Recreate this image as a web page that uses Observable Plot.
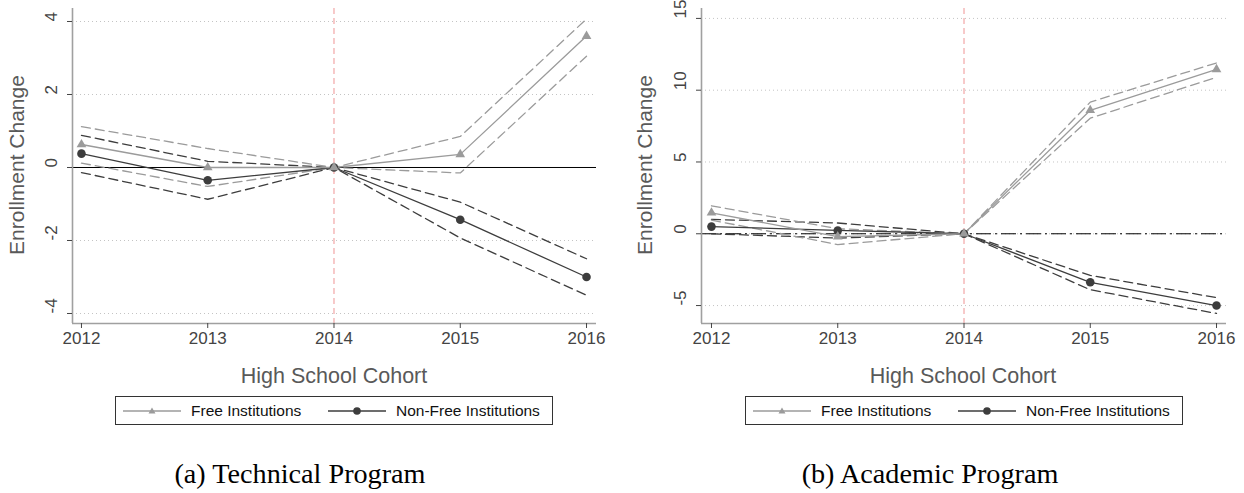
<!DOCTYPE html>
<html>
<head>
<meta charset="utf-8">
<script src="https://cdn.jsdelivr.net/npm/d3@7"></script>
<script src="https://cdn.jsdelivr.net/npm/@observablehq/plot@0.6"></script>
<style>
  body { margin: 0; background: #fff; }
  #wrap { position: relative; width: 1244px; height: 493px; overflow: hidden; font-family: "Liberation Sans", Arial, sans-serif; }
  .abs { position: absolute; }
  .ytitle { font-size: 21px; color: #595959; transform: translate(-50%, -50%) rotate(-90deg); white-space: nowrap; }
  .xtitle { font-size: 21.5px; color: #595959; transform: translate(-50%, -50%); white-space: nowrap; }
  .caption { font-family: "Liberation Serif", "Times New Roman", serif; font-size: 28.2px; color: #000; transform: translateX(-50%); white-space: nowrap; }
  .legend { border: 1px solid #333; box-sizing: border-box; width: 438px; height: 29px; background: #fff; }
  .legend .lt { position: absolute; top: 50%; transform: translateY(-50%); font-size: 15.5px; color: #111; white-space: nowrap; }
  .legend svg { position: absolute; top: 6px; }
</style>
</head>
<body>
<div id="wrap"></div>
<script>
// ---------- data ----------
const years = [2012, 2013, 2014, 2015, 2016];
const seriesNames = ["Free Institutions", "Non-Free Institutions"];

// (a) Technical Program
const techFree      = [0.63, 0.00, 0, 0.36, 3.60];
const techFreeHi    = [1.12, 0.52, 0, 0.85, 4.07];
const techFreeLo    = [0.12, -0.52, 0, -0.15, 3.05];
const techNonFree   = [0.38, -0.35, 0, -1.43, -3.00];
const techNonFreeHi = [0.88, 0.17, 0, -0.95, -2.50];
const techNonFreeLo = [-0.14, -0.87, 0, -1.93, -3.50];
const techYTicks = [-4, -2, 0, 2, 4];

// (b) Academic Program
const acadFree      = [1.46, -0.20, 0, 8.60, 11.45];
const acadFreeHi    = [1.95, 0.35, 0, 9.17, 11.90];
const acadFreeLo    = [0.95, -0.75, 0, 8.05, 10.90];
const acadNonFree   = [0.50, 0.23, 0, -3.38, -5.00];
const acadNonFreeHi = [1.00, 0.75, 0, -2.90, -4.45];
const acadNonFreeLo = [0.00, -0.30, 0, -3.90, -5.55];
const acadYTicks = [-5, 0, 5, 10, 15];

const xTitle = "High School Cohort";
const yTitle = "Enrollment Change";
const captions = ["(a) Technical Program", "(b) Academic Program"];
const refYear = 2014;

// ---------- styles ----------
const FREE = "#9b9b9b";
const NONFREE = "#3d3d3d";

function rows(vals, name) {
  return years.map((year, i) => ({year, value: vals[i], series: name}));
}

function panel({free, freeHi, freeLo, nonFree, nonFreeHi, nonFreeLo, yTicks, yDomain, xDomain, width, marginLeft, marginRight, zeroDash}) {
  const freeRows = rows(free, seriesNames[0]);
  const nonRows = rows(nonFree, seriesNames[1]);
  const ciFree = [...rows(freeHi, "fh"), ...rows(freeLo, "fl")];
  const ciNon = [...rows(nonFreeHi, "nh"), ...rows(nonFreeLo, "nl")];
  return Plot.plot({
    width, height: 360,
    marginLeft, marginRight, marginTop: 8, marginBottom: 37,
    style: {fontFamily: "Liberation Sans, Arial, sans-serif", background: "transparent", overflow: "visible"},
    x: {domain: xDomain, label: null},
    y: {domain: yDomain, label: null},
    marks: [
      Plot.ruleY(yTicks, {stroke: "#c4c4c4", strokeDasharray: "1,3", strokeWidth: 1}),
      Plot.ruleY([0], {stroke: "#000", strokeWidth: 1, strokeDasharray: zeroDash}),
      Plot.ruleX([refYear], {stroke: "#ef9494", strokeDasharray: "6,4", strokeWidth: 1}),
      Plot.line(ciNon, {x: "year", y: "value", z: "series", stroke: NONFREE, strokeWidth: 1.3, strokeDasharray: "9,5"}),
      Plot.line(ciFree, {x: "year", y: "value", z: "series", stroke: FREE, strokeWidth: 1.3, strokeDasharray: "9,5"}),
      Plot.line(nonRows, {x: "year", y: "value", stroke: NONFREE, strokeWidth: 1.3}),
      Plot.line(freeRows, {x: "year", y: "value", stroke: FREE, strokeWidth: 1.3}),
      Plot.dot(nonRows, {x: "year", y: "value", r: 4.3, fill: NONFREE, stroke: "none", symbol: "circle"}),
      Plot.dot(freeRows, {x: "year", y: "value", r: 3.6, fill: FREE, stroke: "none", symbol: "triangle"}),
      Plot.ruleX([xDomain[0]], {stroke: "#a0a0a0", strokeWidth: 1.6}),
      Plot.ruleY([yDomain[0]], {stroke: "#a0a0a0", strokeWidth: 1.6}),
      Plot.axisX({ticks: years, tickFormat: d => String(d), tickSize: 5, tickPadding: 3, fontSize: 17, color: "#444"}),
      Plot.axisY({ticks: yTicks, tickFormat: () => "", tickSize: 5, color: "#444"}),
      Plot.text(yTicks, {y: d => d, text: d => String(d), frameAnchor: "left", dx: -21, rotate: -90, fontSize: 17, fill: "#444"})
    ]
  });
}

const wrap = document.getElementById("wrap");

const left = panel({
  free: techFree, freeHi: techFreeHi, freeLo: techFreeLo,
  nonFree: techNonFree, nonFreeHi: techNonFreeHi, nonFreeLo: techNonFreeLo,
  yTicks: techYTicks, yDomain: [-4.274, 4.356], xDomain: [2011.929, 2016.079],
  width: 620, marginLeft: 72, marginRight: 24, zeroDash: null
});
left.classList.add("abs");
left.style.left = "0px"; left.style.top = "0px";
wrap.appendChild(left);

const right = panel({
  free: acadFree, freeHi: acadFreeHi, freeLo: acadFreeLo,
  nonFree: acadNonFree, nonFreeHi: acadNonFreeHi, nonFreeLo: acadNonFreeLo,
  yTicks: acadYTicks, yDomain: [-6.25, 15.69], xDomain: [2011.921, 2016.079],
  width: 622, marginLeft: 79, marginRight: 18, zeroDash: "15,4,2,4"
});
right.classList.add("abs");
right.style.left = "622px"; right.style.top = "0px";
wrap.appendChild(right);

function addText(cls, text, x, y) {
  const d = document.createElement("div");
  d.className = "abs " + cls;
  d.textContent = text;
  d.style.left = x + "px"; d.style.top = y + "px";
  wrap.appendChild(d);
  return d;
}

addText("ytitle", yTitle, 17, 165);
addText("ytitle", yTitle, 645, 165);
addText("xtitle", xTitle, 334, 376);
addText("xtitle", xTitle, 963, 376);
addText("caption", captions[0], 300, 458);
addText("caption", captions[1], 930, 458);

function swatch(color, symbol) {
  const ns = "http://www.w3.org/2000/svg";
  const s = document.createElementNS(ns, "svg");
  s.setAttribute("width", 58); s.setAttribute("height", 16);
  const l = document.createElementNS(ns, "line");
  l.setAttribute("x1", 0); l.setAttribute("x2", 58); l.setAttribute("y1", 8); l.setAttribute("y2", 8);
  l.setAttribute("stroke", color); l.setAttribute("stroke-width", 1.3);
  s.appendChild(l);
  if (symbol === "circle") {
    const c = document.createElementNS(ns, "circle");
    c.setAttribute("cx", 29); c.setAttribute("cy", 8); c.setAttribute("r", 3.8); c.setAttribute("fill", color);
    s.appendChild(c);
  } else {
    const p = document.createElementNS(ns, "path");
    p.setAttribute("d", "M29,4.5 L32.5,10.5 L25.5,10.5 Z"); p.setAttribute("fill", color);
    s.appendChild(p);
  }
  return s;
}

function legend(x) {
  const box = document.createElement("div");
  box.className = "abs legend";
  box.style.left = x + "px"; box.style.top = "396px";
  const s1 = swatch(FREE, "triangle"); s1.style.left = "7px"; box.appendChild(s1);
  const t1 = document.createElement("span"); t1.className = "lt"; t1.textContent = seriesNames[0]; t1.style.left = "75px"; box.appendChild(t1);
  const s2 = swatch(NONFREE, "circle"); s2.style.left = "212px"; box.appendChild(s2);
  const t2 = document.createElement("span"); t2.className = "lt"; t2.textContent = seriesNames[1]; t2.style.left = "280px"; box.appendChild(t2);
  wrap.appendChild(box);
}
legend(115);
legend(745);
</script>
</body>
</html>
